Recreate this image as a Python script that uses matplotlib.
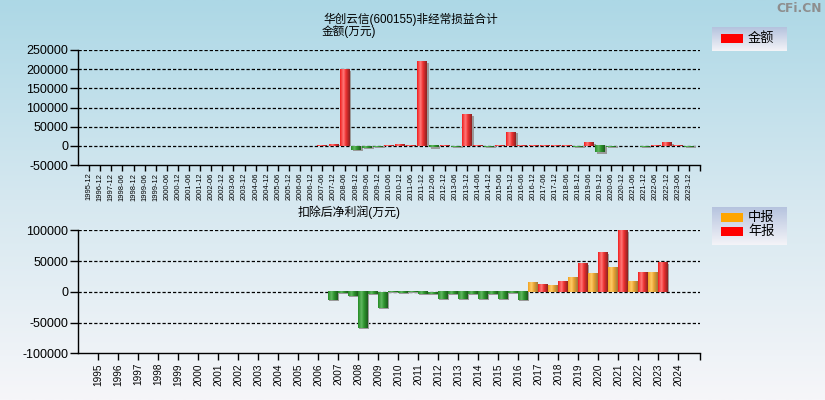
import matplotlib
matplotlib.use("Agg")
import matplotlib.pyplot as plt
import numpy as np
from matplotlib.colors import LinearSegmentedColormap
from matplotlib.patches import Rectangle

plt.rcParams['font.family'] = ['Liberation Sans', 'Noto Sans CJK SC', 'DejaVu Sans']

# ---------------- data ----------------
top_labels = [
    "1995-12", "1996-12", "1997-12", "1998-06", "1998-12", "1999-06", "1999-12",
    "2000-06", "2000-12", "2001-06", "2001-12", "2002-06", "2002-12", "2003-06",
    "2003-12", "2004-06", "2004-12", "2005-06", "2005-12", "2006-06", "2006-12",
    "2007-06", "2007-12", "2008-06", "2008-12", "2009-06", "2009-12", "2010-06",
    "2010-12", "2011-06", "2011-12", "2012-06", "2012-12", "2013-06", "2013-12",
    "2014-06", "2014-12", "2015-06", "2015-12", "2016-06", "2016-12", "2017-06",
    "2017-12", "2018-06", "2018-12", "2019-06", "2019-12", "2020-06", "2020-12",
    "2021-06", "2021-12", "2022-06", "2022-12", "2023-06", "2023-12",
]
top_values = [
    0, 0, 0, 0, 0, 0, 0,
    0, 0, 0, 0, 0, 0, 0,
    0, 0, 0, 0, 0, 0, 0,
    2000, 5000, 200500, -10000, -4500, -2500, 2500,
    5000, 2500, 221000, -3000, 2000, -2500, 83000,
    2000, -2500, 2000, 36500, 2000, 2000, 2000,
    2000, 1500, -2000, 8000, -17000, -2000, 0,
    0, -2000, 2000, 8000, 2500, -2500,
]

years = [str(y) for y in range(1995, 2025)]
mid_values = [
    None, None, None, None, None, None, None, None, None, None, None, None,
    -14000, -7000, -4000, -500, -500, -3000, -4000, -4000, -4000, -2000,
    14700, 9800, 22800, 29300, 39100, 16300, 31000, None,
]
annual_values = [
    None, None, None, None, None, None, None, None, None, None, None, None,
    -2000, -58700, -26000, -2500, -4000, -12500, -12500, -12500, -12500, -14000,
    13000, 16300, 45600, 63500, 99400, 31000, 47200, None,
]

top_yticks = [250000, 200000, 150000, 100000, 50000, 0, -50000]
bot_yticks = [100000, 50000, 0, -50000, -100000]

# ---------------- style helpers ----------------
W, H = 825, 400
fig = plt.figure(figsize=(W / 100, H / 100), dpi=100)

def fx(x):
    return x / W

def fy(y):
    return 1 - y / H

# background gradient
bg = fig.add_axes([0, 0, 1, 1], zorder=-10)
bg_cmap = LinearSegmentedColormap.from_list("bg", ["#add8e6", "#d6e8f0", "#f6f6f9"])
grad = np.linspace(0, 1, 256).reshape(-1, 1)
bg.imshow(grad, aspect='auto', cmap=bg_cmap, extent=[0, 1, 0, 1], origin='upper')
bg.set_axis_off()

red_cmap = LinearSegmentedColormap.from_list(
    "r", [(0, "#f01c1c"), (0.35, "#ff7a7a"), (0.6, "#ee3030"), (1, "#8a2222")])
green_cmap = LinearSegmentedColormap.from_list(
    "g", [(0, "#248c24"), (0.35, "#62b862"), (0.6, "#2f962f"), (1, "#1c5c1c")])
orange_cmap = LinearSegmentedColormap.from_list(
    "o", [(0, "#f2a21e"), (0.35, "#ffcc6a"), (0.6, "#e9a232"), (1, "#9c7a3a")])
hgrad = np.linspace(0, 1, 64).reshape(1, -1)


def draw_bar(ax, xc, w, v, cmap, dx, dy):
    if v is None or v == 0:
        return
    x0, x1 = xc - w / 2, xc + w / 2
    # shadow
    if v > 0:
        sy0, sh = 0, max(v - dy, 0)
    else:
        sy0, sh = v - dy, -(v - dy)
    ax.add_patch(Rectangle((x0 + dx, sy0), w, sh, facecolor="#9a9a9a",
                           edgecolor='none', zorder=2))
    y0, y1 = (0, v) if v > 0 else (v, 0)
    ax.imshow(hgrad, aspect='auto', cmap=cmap, extent=[x0, x1, y0, y1],
              zorder=3, interpolation='bilinear')


def style_axes(ax, yticks, grid_vals):
    ax.set_facecolor('none')
    for s in ['top', 'right']:
        ax.spines[s].set_visible(False)
    for s in ['left', 'bottom']:
        ax.spines[s].set_color('black')
        ax.spines[s].set_linewidth(1.0)
    ax.set_yticks(yticks)
    ax.set_yticklabels([str(v) for v in yticks], fontsize=9)
    ax.tick_params(axis='y', length=6, width=1, pad=1, direction='out')
    for g in grid_vals:
        ax.axhline(g, color='black', lw=0.9, ls=(0, (2.6, 1.6)), zorder=1)


# ---------------- top chart ----------------
ax1 = fig.add_axes([fx(78), fy(165), fx(700) - fx(78), fy(50) - fy(165)])
style_axes(ax1, top_yticks, [250000, 200000, 150000, 100000, 50000, 0])
for i, v in enumerate(top_values):
    draw_bar(ax1, i, 0.88, v, red_cmap if v > 0 else green_cmap, 0.18, 4000)
ax1.set_xlim(-1, len(top_labels))
ax1.set_ylim(-50000, 250000)
ax1.set_xticks(list(range(len(top_labels) + 1)))
ax1.set_xticklabels(top_labels + [""], rotation=90, fontsize=5.4)
ax1.tick_params(axis='x', length=4, width=1, pad=1.5)

# ---------------- bottom chart ----------------
ax2 = fig.add_axes([fx(78), fy(353.3), fx(700) - fx(78), fy(230.3) - fy(353.3)])
style_axes(ax2, bot_yticks, [100000, 50000, 0, -50000])
for k in range(len(years)):
    mv = mid_values[k]
    av = annual_values[k]
    if mv is not None:
        draw_bar(ax2, k - 0.25, 0.5, mv, orange_cmap if mv > 0 else green_cmap, 0.07, 1600)
    if av is not None:
        draw_bar(ax2, k + 0.25, 0.5, av, red_cmap if av > 0 else green_cmap, 0.07, 1600)
ax2.set_xlim(-1, 30.1)
ax2.set_ylim(-100000, 100000)
ax2.set_xticks(list(range(len(years))) + [30.1])
ax2.set_xticklabels(years + [""], rotation=90, fontsize=7.2)
ax2.tick_params(axis='x', length=5, width=1, pad=2)

# ---------------- titles ----------------
fig.text(fx(323), fy(19.5), "华创云信(600155)非经常损益合计", ha='left', va='center', fontsize=8.4)
fig.text(fx(322), fy(31.5), "金额(万元)", ha='left', va='center', fontsize=8.4)
fig.text(fx(298), fy(212), "扣除后净利润(万元)", ha='left', va='center', fontsize=8.6)
fig.text(fx(822), fy(9), "CFi.CN", ha='right', va='center', fontsize=8.8,
         fontweight='bold', color='#8e8e8e', family=['DejaVu Sans'])

# ---------------- legends ----------------
leg_cmap = LinearSegmentedColormap.from_list("leg", ["#b4c2de", "#f4f4f8"])


def legend_box(x0, y0, x1, y1, items):
    lax = fig.add_axes([fx(x0), fy(y1), fx(x1) - fx(x0), fy(y0) - fy(y1)], zorder=5)
    lax.imshow(grad, aspect='auto', cmap=leg_cmap, extent=[0, 1, 0, 1], origin='upper')
    lax.set_axis_off()
    for (label, color, yc) in items:
        fig.patches.append(Rectangle((fx(721), fy(yc + 4.5)), fx(743) - fx(721), 9 / H,
                                     transform=fig.transFigure, facecolor=color,
                                     edgecolor='none', zorder=6))
        fig.text(fx(748), fy(yc), label, ha='left', va='center', fontsize=9.5, zorder=7)


legend_box(712, 27, 787, 51, [("金额", "#ff0000", 38.5)])
legend_box(712, 207, 787, 245, [("中报", "#ffa500", 217.5), ("年报", "#ff0000", 231.5)])

fig.savefig("out.png", dpi=100)
